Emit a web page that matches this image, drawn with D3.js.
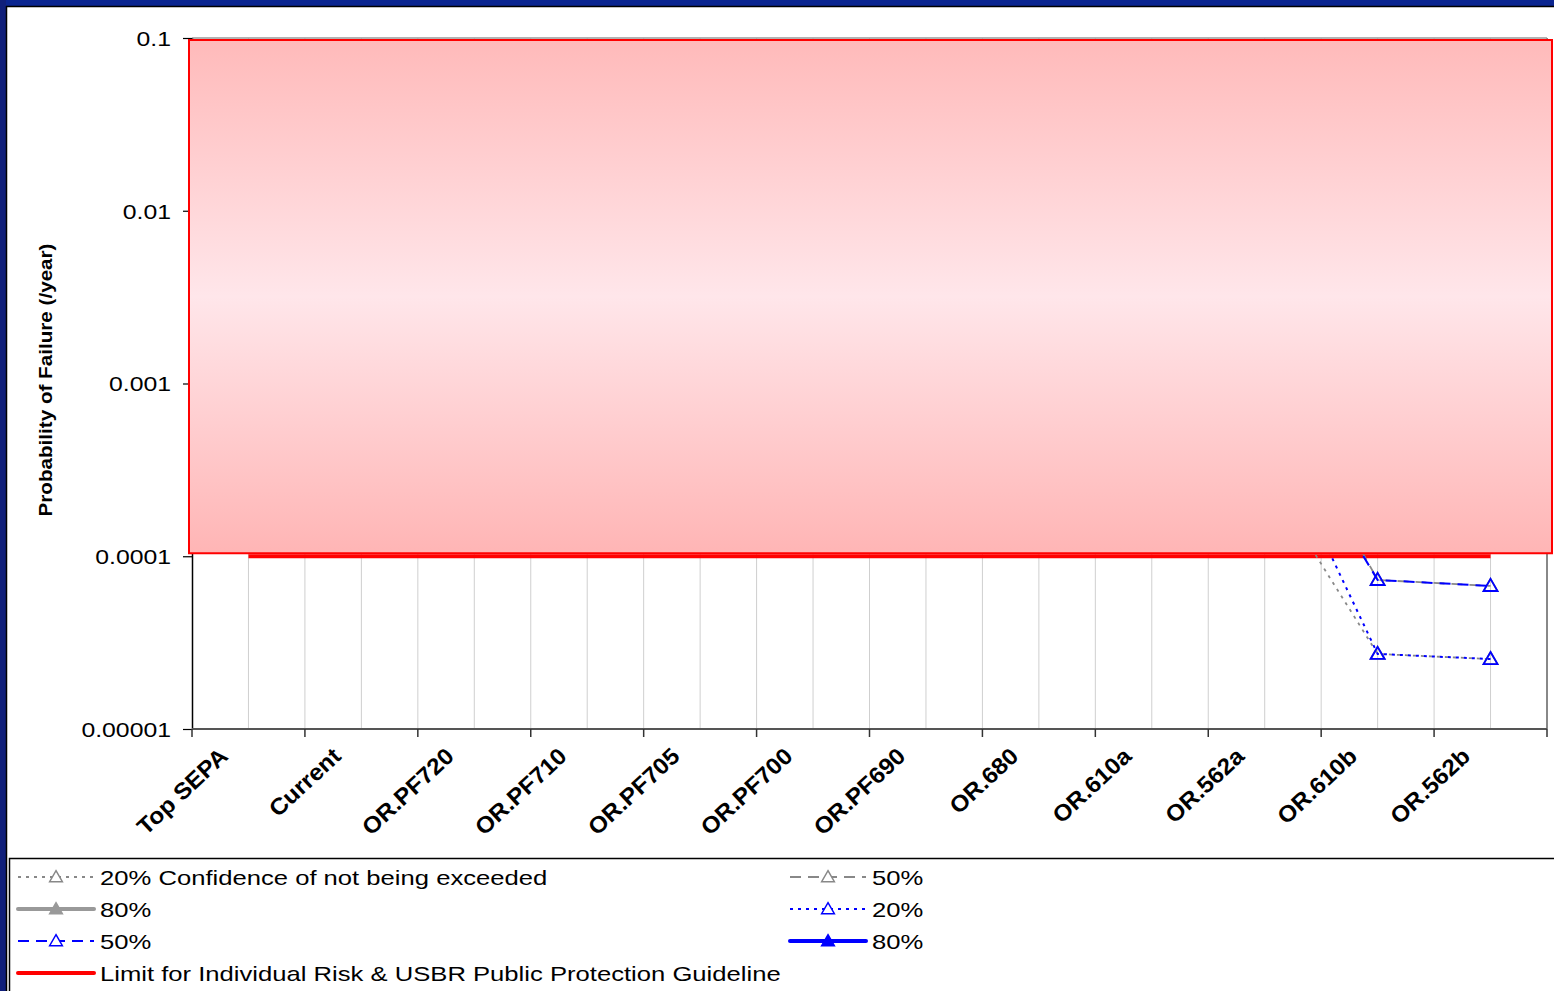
<!DOCTYPE html>
<html>
<head>
<meta charset="utf-8">
<script src="https://cdn.jsdelivr.net/npm/d3@7"></script>
<style>
  body { margin: 0; background: #fff; }
  text { font-family: Arial, "Liberation Sans", sans-serif; }
</style>
</head>
<body>
<div id="viz"></div>
<script>
'use strict';

const width = 1554;
const height = 991;

// categories along the x axis
const categories = ["Top SEPA", "Current", "OR.PF720", "OR.PF710", "OR.PF705", "OR.PF700",
    "OR.PF690", "OR.680", "OR.610a", "OR.562a", "OR.610b", "OR.562b"];

// probability of failure (/year) per category (values above 1e-4 sit behind the shaded band)
const grey20 = [0.012, 0.009, 0.006, 0.0045, 0.003, 0.0022, 0.0015, 0.001, 0.0006, 0.0003, 0.0000272, 0.0000254];
const grey50 = [0.025, 0.018, 0.012, 0.009, 0.0065, 0.0048, 0.0034, 0.0024, 0.0016, 0.0011, 0.0000729, 0.0000673];
const grey80 = [0.05, 0.036, 0.025, 0.018, 0.013, 0.0095, 0.007, 0.005, 0.0033, 0.0022, 0.00025, 0.00024];
const blue20 = [0.014, 0.01, 0.007, 0.005, 0.0035, 0.0025, 0.0018, 0.0012, 0.0009, 0.00065, 0.0000272, 0.0000254];
const blue50 = [0.028, 0.02, 0.014, 0.01, 0.007, 0.005, 0.0036, 0.0026, 0.0017, 0.0009, 0.0000729, 0.0000673];
const blue80 = [0.055, 0.04, 0.028, 0.02, 0.014, 0.01, 0.0075, 0.0055, 0.0036, 0.0024, 0.00026, 0.00025];
const limitValue = 0.0001;

const yTicks = [0.00001, 0.0001, 0.001, 0.01, 0.1];
const yTickLabels = ["0.00001", "0.0001", "0.001", "0.01", "0.1"];

const series = [
    {name: "20% Confidence of not being exceeded", values: grey20, color: "#888", dash: "3,5", width: 1.8, filled: false},
    {name: "50%", values: grey50, color: "#888", dash: "11,7", width: 1.8, filled: false},
    {name: "80%", values: grey80, color: "#999", dash: null, width: 4, filled: true},
    {name: "20%", values: blue20, color: "#0000ff", dash: "3,5", width: 2, filled: false},
    {name: "50%", values: blue50, color: "#0000ff", dash: "11,7", width: 2, filled: false},
    {name: "80%", values: blue80, color: "#0000ff", dash: null, width: 4, filled: true}
];

const svg = d3.select("#viz")
    .append("svg")
    .attr("width", width)
    .attr("height", height);

// frame
svg.append("rect").attr("x", 0).attr("y", 0).attr("width", width).attr("height", 6).attr("fill", "#0b2590");
svg.append("rect").attr("x", 0).attr("y", 0).attr("width", 6).attr("height", height).attr("fill", "#101f7a");
svg.append("line").attr("x1", 6).attr("x2", width).attr("y1", 6.5).attr("y2", 6.5).attr("stroke", "#000").attr("stroke-width", 1.5);
svg.append("line").attr("x1", 6.5).attr("x2", 6.5).attr("y1", 6).attr("y2", height).attr("stroke", "#000").attr("stroke-width", 1.5);

const x = d3.scaleBand()
    .domain(categories)
    .range([192, 1547])
    .padding(0);
const bw = x.bandwidth();
const cx = d => x(d) + bw / 2;

const y = d3.scaleLog()
    .domain([0.00001, 0.1])
    .range([729, 38]);

const plot = svg.append("g");

// vertical gridlines at band edges and centres
const gridX = [];
categories.forEach(c => { gridX.push(x(c) + bw / 2); gridX.push(x(c) + bw); });
plot.selectAll(".grid")
    .data(gridX)
    .enter()
    .append("line")
    .attr("class", "grid")
    .attr("x1", d => d).attr("x2", d => d)
    .attr("y1", y(0.1)).attr("y2", y(0.00001))
    .attr("stroke", d => d >= 1546 ? "#888" : "#cfcfcf")
    .attr("stroke-width", d => d >= 1546 ? 2 : 1);

// top border of plot area
plot.append("line")
    .attr("x1", 192).attr("x2", 1547)
    .attr("y1", y(0.1)).attr("y2", y(0.1))
    .attr("stroke", "#999").attr("stroke-width", 1.5);

// limit line
const line = d3.line()
    .x((d, i) => cx(categories[i]))
    .y(d => y(d));

plot.append("path")
    .datum(categories.map(() => limitValue))
    .attr("fill", "none")
    .attr("stroke", "#ff0000")
    .attr("stroke-width", 4)
    .attr("d", line);

const tri = d3.symbol().type(d3.symbolTriangle).size(85);

// series
series.forEach(s => {
    plot.append("path")
        .datum(s.values)
        .attr("fill", "none")
        .attr("stroke", s.color)
        .attr("stroke-width", s.width)
        .attr("stroke-dasharray", s.dash)
        .attr("d", line);
    plot.selectAll(null)
        .data(s.values)
        .enter()
        .append("path")
        .attr("d", tri)
        .attr("transform", (d, i) => `translate(${cx(categories[i])},${y(d) + 1})`)
        .attr("fill", s.filled ? s.color : "#fff")
        .attr("fill-opacity", s.filled ? 1 : 0)
        .attr("stroke", s.color)
        .attr("stroke-width", 1.8);
});

// y axis
const yAxis = svg.append("g")
    .attr("transform", "translate(192,0)")
    .call(d3.axisLeft(y)
        .tickValues(yTicks)
        .tickFormat((d, i) => yTickLabels[i])
        .tickSizeInner(9)
        .tickSizeOuter(0)
        .tickPadding(12));
yAxis.select(".domain").attr("stroke", "#000").attr("stroke-width", 1.5);
yAxis.selectAll(".tick line").attr("stroke", "#000").attr("stroke-width", 1.2);
yAxis.selectAll(".tick text")
    .attr("font-size", 21)
    .attr("fill", "#000")
    .attr("dy", "0.35em")
    .each(function() {
        const len = this.getComputedTextLength();
        d3.select(this).attr("textLength", len * 1.18).attr("lengthAdjust", "spacingAndGlyphs");
    });

// shaded band from 0.1 down to the limit (drawn over the axis line)
const grad = svg.append("defs").append("linearGradient")
    .attr("id", "band")
    .attr("x1", 0).attr("x2", 0).attr("y1", 0).attr("y2", 1);
grad.append("stop").attr("offset", "0%").attr("stop-color", "#ffbaba");
grad.append("stop").attr("offset", "50%").attr("stop-color", "#ffe6ea");
grad.append("stop").attr("offset", "100%").attr("stop-color", "#ffb5b5");

svg.append("rect")
    .attr("x", x.range()[0] - 3)
    .attr("y", y(0.1) + 2)
    .attr("width", x.range()[1] - x.range()[0] + 8)
    .attr("height", y(limitValue) - y(0.1) - 5)
    .attr("fill", "url(#band)")
    .attr("stroke", "#ff0000")
    .attr("stroke-width", 2);

// x axis
const xAxisG = svg.append("g");
xAxisG.append("line")
    .attr("x1", 192).attr("x2", 1547)
    .attr("y1", 729).attr("y2", 729)
    .attr("stroke", "#555").attr("stroke-width", 2);
const xTickPos = [x.range()[0]].concat(categories.map(c => x(c) + bw));
xAxisG.selectAll(".xt")
    .data(xTickPos)
    .enter()
    .append("line")
    .attr("x1", d => d).attr("x2", d => d)
    .attr("y1", 729).attr("y2", 737)
    .attr("stroke", "#333").attr("stroke-width", 1.5);
xAxisG.selectAll(".xl")
    .data(categories)
    .enter()
    .append("text")
    .attr("class", "xl")
    .attr("text-anchor", "end")
    .attr("font-size", 23)
    .attr("font-weight", "bold")
    .attr("transform", d => `translate(${cx(d) - 19},758) rotate(-43)`)
    .text(d => d)
    .each(function() {
        const len = this.getComputedTextLength();
        d3.select(this).attr("textLength", len * 1.06).attr("lengthAdjust", "spacingAndGlyphs");
    });

// y axis title
svg.append("text")
    .attr("transform", "translate(52,380) rotate(-90)")
    .attr("text-anchor", "middle")
    .attr("font-size", 19)
    .attr("font-weight", "bold")
    .attr("textLength", 273)
    .attr("lengthAdjust", "spacingAndGlyphs")
    .text("Probability of Failure (/year)");

// legend
const legend = svg.append("g");
legend.append("rect")
    .attr("x", 9.5).attr("y", 858.5)
    .attr("width", width).attr("height", 200)
    .attr("fill", "#fff")
    .attr("stroke", "#000").attr("stroke-width", 1.5);

const legendItems = [
    {s: series[0], col: 0, row: 0},
    {s: series[1], col: 1, row: 0},
    {s: series[2], col: 0, row: 1},
    {s: series[3], col: 1, row: 1},
    {s: series[4], col: 0, row: 2},
    {s: series[5], col: 1, row: 2},
    {s: {name: "Limit for Individual Risk & USBR Public Protection Guideline", color: "#ff0000", dash: null, width: 4, noMarker: true}, col: 0, row: 3}
];
const colX = [18, 790];
const rowY = [877, 909, 941, 973];
const symTri = d3.symbol().type(d3.symbolTriangle).size(70);

legendItems.forEach(it => {
    const gx = colX[it.col];
    const gy = rowY[it.row];
    const g = legend.append("g").attr("transform", `translate(${gx},${gy})`);
    g.append("line")
        .attr("x1", 0).attr("x2", 76)
        .attr("y1", 0).attr("y2", 0)
        .attr("stroke", it.s.color)
        .attr("stroke-width", it.s.width)
        .attr("stroke-dasharray", it.s.dash)
        .attr("stroke-linecap", it.s.dash ? "butt" : "round");
    if (!it.s.noMarker) {
        g.append("path")
            .attr("d", symTri)
            .attr("transform", "translate(38,1)")
            .attr("fill", it.s.filled ? it.s.color : "#fff")
            .attr("stroke", it.s.color)
            .attr("stroke-width", 1.5);
    }
    const t = g.append("text")
        .attr("x", 82)
        .attr("y", 0)
        .attr("dy", "0.36em")
        .attr("font-size", 21)
        .text(it.s.name);
    const len = t.node().getComputedTextLength();
    t.attr("textLength", len * 1.22).attr("lengthAdjust", "spacingAndGlyphs");
});
</script>
</body>
</html>
